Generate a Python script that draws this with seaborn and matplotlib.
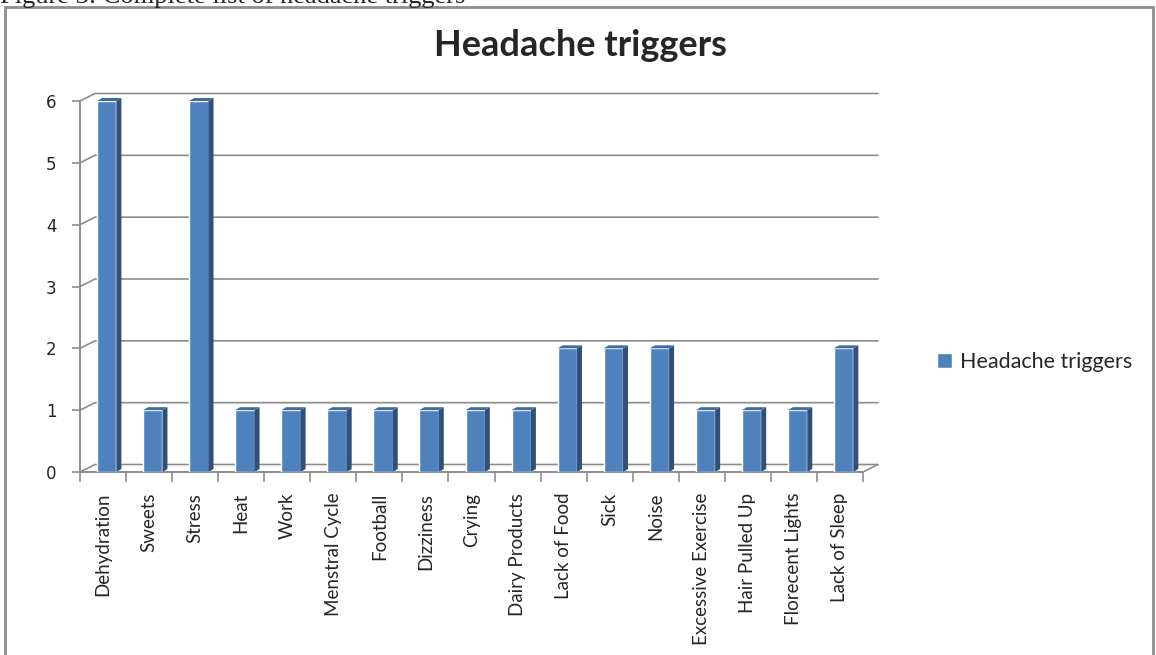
import numpy as np
import pandas as pd
import matplotlib
matplotlib.use("Agg")
import matplotlib.pyplot as plt
from matplotlib.patches import Polygon, Rectangle
import seaborn as sns

# chart data
triggers = ["Dehydration", "Sweets", "Stress", "Heat", "Work", "Menstral Cycle",
            "Football", "Dizziness", "Crying", "Dairy Products", "Lack of Food",
            "Sick", "Noise", "Excessive Exercise", "Hair Pulled Up",
            "Florecent Lights", "Lack of Sleep"]
counts = [6, 1, 6, 1, 1, 1, 1, 1, 1, 1, 2, 2, 2, 1, 1, 1, 2]
y_ticks = [0, 1, 2, 3, 4, 5, 6]

series_name = "Headache triggers"
caption = "Figure 3: Complete list of headache triggers"

FRONT = "#4F81BD"
SIDE = "#2F5079"
TOP = "#3F6CA3"
GRID = "#8C8C8C"

sns.set_theme(style="white")
plt.rcParams['font.family'] = ['Lato', 'DejaVu Sans']

W, H = 1156, 655
fig = plt.figure(figsize=(W / 100, H / 100), dpi=100)

# axes placed in pixel terms: front axis x 80..862, back wall to 878, y 0 at 472, top 93
ax = fig.add_axes([80 / W, (H - 472) / H, (878 - 80) / W, (472 - 93) / H])

df = pd.DataFrame({"Trigger": triggers, "Count": counts})
sns.barplot(data=df, x="Trigger", y="Count", color=FRONT, width=0.42,
            saturation=1, ax=ax, label=series_name, zorder=3)

n = len(triggers)
px_x = (862 - 80) / n          # pixels per category
px_y = (472 - 101) / 6.0       # pixels per unit
dx, dy = 15 / px_x, 7.5 / px_y  # wall depth
bdx, bdy = 5 / px_x, 3 / px_y   # bar depth

ax.set_xlim(-0.5, n - 0.5 + dx)
ax.set_ylim(0, 6 + 8 / px_y)

# back wall gridlines with the diagonal connectors
for v in y_ticks:
    xs = [-0.5, -0.5 + dx, n - 0.5 + dx]
    ys = [v, v + dy, v + dy]
    ax.plot(xs, ys, color=GRID, lw=1.2, zorder=1, clip_on=False)
ax.plot([n - 0.5, n - 0.5 + dx], [0, dy], color=GRID, lw=1.2, zorder=1, clip_on=False)

# shift bars a touch and add side/top faces for the 3D look
for p in ax.patches:
    x0 = p.get_x() + 0.08
    p.set_x(x0)
    w = p.get_width()
    h = p.get_height()
    x1 = x0 + w
    side = Polygon([(x1, 0), (x1 + bdx, bdy), (x1 + bdx, h + bdy), (x1, h)],
                   closed=True, facecolor=SIDE, edgecolor="none", zorder=3)
    top = Polygon([(x0, h), (x0 + bdx, h + bdy), (x1 + bdx, h + bdy), (x1, h)],
                  closed=True, facecolor=TOP, edgecolor="none", zorder=3)
    ax.add_patch(side)
    ax.add_patch(top)

for s in ["top", "right"]:
    ax.spines[s].set_visible(False)
for s in ["left", "bottom"]:
    ax.spines[s].set_color(GRID)
    ax.spines[s].set_linewidth(1.4)
ax.spines["left"].set_bounds(0, 6)
ax.spines["bottom"].set_bounds(-0.5, n - 0.5)

ax.set_yticks(y_ticks)
ax.set_yticklabels([str(v) for v in y_ticks], fontsize=12, family=['DejaVu Sans'])
ax.tick_params(axis="y", length=6, width=1.2, color=GRID, pad=11, left=True)

ax.set_xticks(np.arange(n))
ax.set_xticklabels(triggers, rotation=90, fontsize=13.5)
ax.tick_params(axis="x", length=0, pad=15, bottom=True)
ax.set_xticks(np.arange(n + 1) - 0.5, minor=True)
ax.tick_params(axis="x", which="minor", length=7, width=1.2, color=GRID, bottom=True)
ax.set_xlabel("")
ax.set_ylabel("")
ax.grid(False)

fig.text(580 / W, 1 - 45 / H, series_name, ha="center", va="center",
         fontsize=26, fontweight="bold", family=['Lato', 'DejaVu Sans'])

handle = Rectangle((0, 0), 1, 1, facecolor=FRONT)
if ax.get_legend() is not None:
    ax.get_legend().remove()
fig.legend([handle], [series_name], loc="center left",
           bbox_to_anchor=(926 / W, 1 - 362 / H), frameon=False,
           handlelength=0.7, handleheight=0.7, handletextpad=0.4,
           borderpad=0, prop={'family': ['Lato', 'DejaVu Sans'], 'size': 15.5})

# chart area border and the caption above it
fig.add_artist(Rectangle((5 / W, -0.02), (1153 - 5) / W, 1 - 7 / H + 0.02,
                         transform=fig.transFigure, fill=False,
                         edgecolor="#8E8E8E", lw=2))
fig.text(0, 1 - 3 / H, caption, ha="left", va="baseline", fontsize=19,
         family=['Liberation Serif', 'DejaVu Serif'])

fig.savefig("out.png", dpi=100)
